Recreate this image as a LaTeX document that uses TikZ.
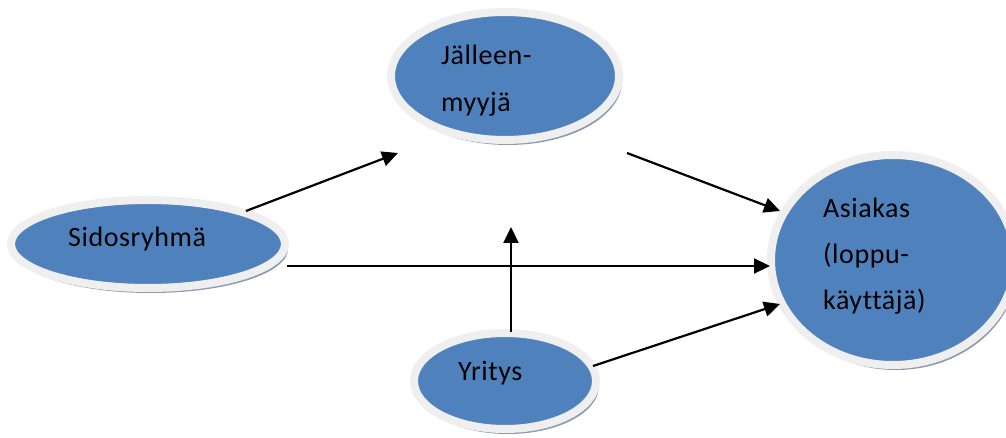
\documentclass[tikz,border=0pt]{standalone}
\usepackage{fontspec}
\setmainfont{Carlito}[LetterSpace=2, Ligatures={NoCommon}]
\usetikzlibrary{arrows.meta,shapes.geometric,shadows}

\definecolor{discblue}{HTML}{4F81BD}
\definecolor{discrim}{HTML}{EFEFEF}
\definecolor{discshade}{RGB}{140,154,178}

\tikzset{
  disc/.style={ellipse, fill=discblue, draw=discrim, line width=8pt,
    inner sep=0pt, outer sep=0pt,
    drop shadow={shadow xshift=3pt, shadow yshift=-5pt, fill=discshade, opacity=1}},
  lbl/.style={anchor=base west, inner sep=0pt, font=\fontsize{28}{32}\selectfont},
  flow/.style={line width=2.2pt, -{Triangle[length=16pt,width=15pt]}}
}

\begin{document}
\begin{tikzpicture}[x=1pt, y=-1pt]
  \useasboundingbox (0,0) rectangle (1006,438);
  \clip (0,0) rectangle (1006,438);

  % the four parties
  \node[disc, minimum width=228pt, minimum height=128pt] (reseller) at (505,76) {};
  \node[disc, minimum width=274pt, minimum height=88pt]  (partners) at (148,244) {};
  \node[disc, minimum width=182pt, minimum height=96pt]  (company)  at (505,381) {};
  \node[disc, minimum width=244pt, minimum height=210pt] (customer) at (893,260) {};

  % labels
  \node[lbl] (resellerA) at (441,65)  {Jälleen-};
  \node[lbl] (resellerB) at (441,112) {myyjä};
  \node[lbl] (partnersA) at (68,247)  {Sidosryhmä};
  \node[lbl] (companyA)  at (458,380) {Yritys};
  \node[lbl] (customerA) at (823,218) {Asiakas};
  \node[lbl] (customerB) at (823,264) {(loppu-};
  \node[lbl] (customerC) at (823,309) {käyttäjä)};

  % arrow end points
  \coordinate (p1) at (246,211);
  \coordinate (r1) at (398,153);
  \coordinate (r2) at (627,153);
  \coordinate (c1) at (780,211);
  \coordinate (p2) at (287,266);
  \coordinate (c2) at (770,266);
  \coordinate (y1) at (511,332);
  \coordinate (r3) at (511,227);
  \coordinate (y2) at (593,366);
  \coordinate (c3) at (780,304);

  % flows
  \draw[flow] (p1) -- (r1);
  \draw[flow] (r2) -- (c1);
  \draw[flow] (p2) -- (c2);
  \draw[flow] (y1) -- (r3);
  \draw[flow] (y2) -- (c3);
\end{tikzpicture}
\end{document}
